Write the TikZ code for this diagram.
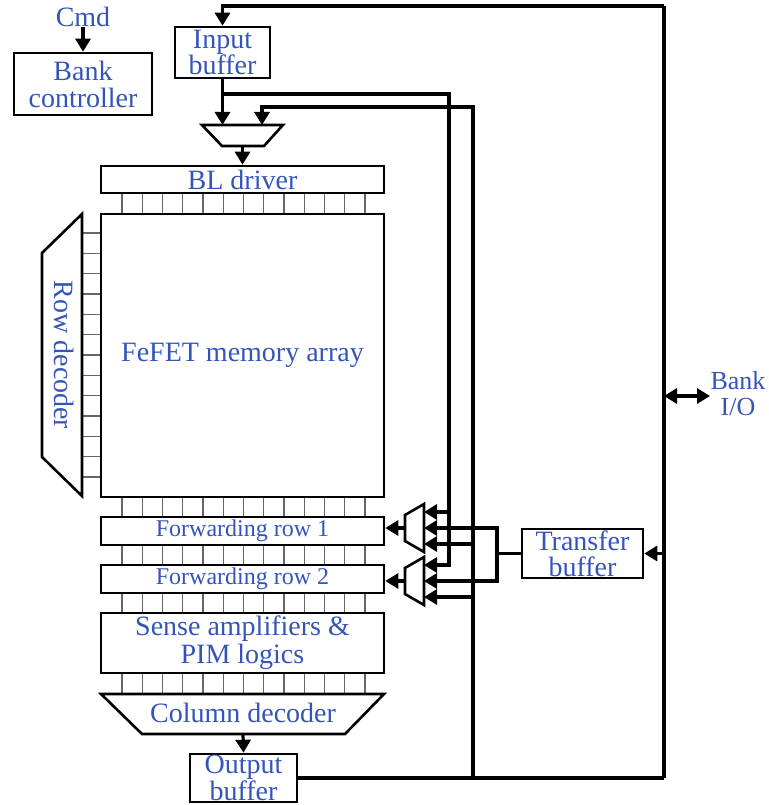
\documentclass[tikz,border=0pt]{standalone}
\usepackage{fontspec}
\setmainfont{Liberation Serif}
\usetikzlibrary{arrows.meta}
\definecolor{txtblue}{RGB}{52,84,186}
\begin{document}
\begin{tikzpicture}[x=1pt,y=-1pt,
  lbl/.style={text=txtblue, font=\fontsize{28}{25}\selectfont, align=center, inner sep=0pt},
  blk/.style={lbl, draw=black, line width=2.6pt, rectangle},
  bus/.style={line width=3.2pt},
  arr/.style={-{Triangle[length=13pt,width=15pt]}},
  cell/.style={line width=1.1pt, draw=black!60},
  shp/.style={draw=black, line width=2.6pt, fill=white}]

\useasboundingbox (0,0) rectangle (768,805);

% cells between stacked blocks
\foreach \ya/\yb in {193/214,497/517,545/565,593/613,673/694}{
  \foreach \i in {0,...,12}{
    \draw[cell] ({122+20.25*\i},\ya) -- ({122+20.25*\i},\yb);
  }
}
\foreach \i in {0,...,12}{
  \draw[cell] (82,{233+20.33*\i}) -- (101,{233+20.33*\i});
}

% blocks
\node[lbl] (cmd) at (83,17) {Cmd};
\node[blk, minimum width=138pt, minimum height=62pt, font=\fontsize{28}{27}\selectfont] (bankctrl) at (83,84) {Bank\\controller};
\node[blk, minimum width=95pt, minimum height=51pt] (inbuf) at (222.5,52.5) {Input\\buffer};
\node[blk, minimum width=283pt, minimum height=27pt] (bldrv) at (242.5,179.5) {BL driver};
\node[blk, minimum width=283pt, minimum height=283pt] (array) at (242.5,355.5) {FeFET memory array};
\node[blk, minimum width=283pt, minimum height=28pt, font=\fontsize{24}{24}\selectfont] (fr1) at (242.5,531) {Forwarding row 1};
\node[blk, minimum width=283pt, minimum height=28pt, font=\fontsize{24}{24}\selectfont] (fr2) at (242.5,579) {Forwarding row 2};
\node[blk, minimum width=283pt, minimum height=60pt, font=\fontsize{28}{28}\selectfont] (sa) at (242.5,643) {Sense amplifiers \&\\PIM logics};
\node[blk, minimum width=107pt, minimum height=48pt, font=\fontsize{28}{24}\selectfont] (outbuf) at (243.5,778) {Output\\buffer};
\node[blk, minimum width=121pt, minimum height=49pt, font=\fontsize{28}{26}\selectfont] (tbuf) at (582.5,553.5) {Transfer\\buffer};
\node[lbl, font=\fontsize{26}{26}\selectfont] (bankio) at (738,394) {Bank\\I/O};

% row decoder
\draw[shp] (82,214) -- (82,496) -- (42,457) -- (42,253) -- cycle;
\node[lbl, rotate=-90] (rowdec) at (64,355) {Row decoder};

% column decoder
\draw[shp] (101,694) -- (384,694) -- (345,734) -- (142,734) -- cycle;
\node[lbl] (coldec) at (243,713) {Column decoder};

% multiplexers
\draw[shp] (202,125) -- (283,125) -- (264,146) -- (222,146) -- cycle;
\coordinate (mTin1) at (222.5,125);
\coordinate (mTin2) at (262,125);
\coordinate (mTout) at (242.5,146);
\draw[shp] (424,504) -- (424,552) -- (405,541) -- (405,515) -- cycle;
\coordinate (m1in1) at (424,512);
\coordinate (m1in2) at (424,528);
\coordinate (m1in3) at (424,544);
\coordinate (m1out) at (405,528);
\draw[shp] (424,557) -- (424,605) -- (405,594) -- (405,568) -- cycle;
\coordinate (m2in1) at (424,565);
\coordinate (m2in2) at (424,581);
\coordinate (m2in3) at (424,597);
\coordinate (m2out) at (405,581);

% bus coordinates
\coordinate (tr) at (664,6);
\coordinate (br) at (664,778);
\coordinate (j1) at (222.5,94);
\coordinate (ioL) at (664,396);
\coordinate (ioR) at (710,396);
\coordinate (tj) at (497,553.5);

% connectors
\draw[bus,arr] (cmd.south) -- (bankctrl.north);
\draw[bus,arr] (tr) -| (inbuf.north);
\draw[bus] (tr) -- (br);
\draw[bus] (outbuf.east |- br) -- (br);
\draw[bus,{Triangle[length=13pt,width=15pt]}-{Triangle[length=13pt,width=15pt]}] (ioL) -- (ioR);

\draw[bus,arr] (inbuf.south) -- (mTin1);
\draw[bus,arr] (j1) -| (449,565) -- (m2in1);
\draw[bus,arr] (449,512) -- (m1in1);

\draw[bus,arr] (473,778) -- (473,107) -| (mTin2);
\draw[bus,arr] (473,544) -- (m1in3);
\draw[bus,arr] (473,597) -- (m2in3);

\draw[bus,arr] (664,553.5) -- (tbuf.east);
\draw[bus] (tbuf.west) -- (tj);
\draw[bus,arr] (tj) |- (m1in2);
\draw[bus,arr] (tj) |- (m2in2);

\draw[bus,arr] (m1out) -- (fr1.east |- m1out);
\draw[bus,arr] (m2out) -- (fr2.east |- m2out);
\draw[bus,arr] (mTout) -- (bldrv.north);
\draw[bus,arr] (243,734) -- (outbuf.north);
\end{tikzpicture}
\end{document}
